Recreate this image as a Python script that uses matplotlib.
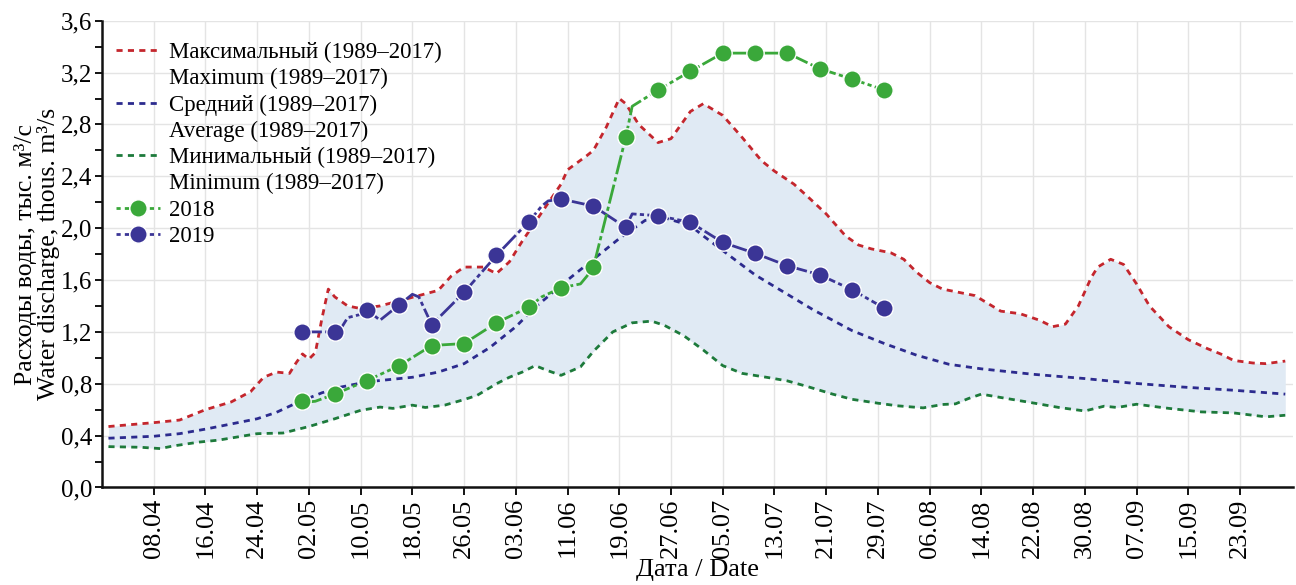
import matplotlib

matplotlib.use("Agg")
import matplotlib.pyplot as plt
import numpy as np
from matplotlib.lines import Line2D
from matplotlib.ticker import MultipleLocator, FuncFormatter

plt.rcParams["font.family"] = ["Liberation Serif", "DejaVu Serif"]

# ---- data: day offset from 01.04 and discharge, thous. m3/s ----
max_days = [0, 7, 11, 15, 19, 22, 24, 26, 28, 29, 30, 31, 32, 33, 34, 35, 37, 39,
            42, 45, 48, 51, 53, 55, 58, 60, 62, 64, 67, 70, 71, 74, 75, 77, 79, 80,
            82, 85, 87, 90, 92, 95, 98, 101, 103, 106, 108, 111, 114, 116, 118, 121,
            123, 125, 127, 129, 134, 138, 141, 144, 146, 148, 150, 152, 153, 155,
            157, 159, 161, 164, 167, 170, 172, 174, 177, 179, 182]
max_vals = [0.47, 0.50, 0.52, 0.60, 0.66, 0.74, 0.85, 0.89, 0.88, 0.96, 1.03, 0.99,
            1.04, 1.30, 1.53, 1.47, 1.40, 1.38, 1.40, 1.44, 1.48, 1.52, 1.63, 1.70,
            1.70, 1.65, 1.74, 1.90, 2.12, 2.34, 2.45, 2.56, 2.60, 2.78, 3.00, 2.96,
            2.80, 2.66, 2.69, 2.90, 2.96, 2.87, 2.70, 2.52, 2.44, 2.34, 2.25, 2.11,
            1.94, 1.87, 1.84, 1.81, 1.76, 1.66, 1.58, 1.53, 1.48, 1.36, 1.34, 1.29,
            1.24, 1.26, 1.40, 1.62, 1.70, 1.76, 1.72, 1.57, 1.40, 1.24, 1.14, 1.07,
            1.03, 0.98, 0.96, 0.955, 0.975]

mean_days = [0, 7, 11, 15, 19, 23, 26, 29, 33, 36, 40, 43, 47, 51, 55, 59, 63, 66,
             71, 76, 79, 83, 86, 88, 90, 92, 96, 100, 104, 109, 115, 120, 125, 130,
             135, 143, 151, 158, 166, 174, 182]
mean_vals = [0.38, 0.395, 0.415, 0.45, 0.49, 0.53, 0.58, 0.65, 0.73, 0.775, 0.815,
             0.83, 0.85, 0.89, 0.955, 1.08, 1.24, 1.39, 1.60, 1.80, 1.92, 2.06, 2.08,
             2.05, 2.02, 1.94, 1.79, 1.64, 1.52, 1.37, 1.21, 1.11, 1.02, 0.95, 0.915,
             0.873, 0.84, 0.806, 0.775, 0.75, 0.72]

min_days = [0, 5, 8, 10, 14, 17, 20, 23, 27, 31, 35, 39, 42, 44, 47, 49, 52, 55, 57,
            60, 62, 64, 66, 68, 70, 73, 75, 78, 81, 84, 86, 89, 92, 95, 98, 102, 105,
            108, 112, 115, 119, 122, 126, 129, 131, 133, 135, 138, 143, 147, 151, 154,
            156, 159, 164, 169, 174, 179, 182]
min_vals = [0.315, 0.31, 0.30, 0.32, 0.35, 0.365, 0.39, 0.415, 0.42, 0.47, 0.53,
            0.595, 0.62, 0.61, 0.635, 0.617, 0.635, 0.678, 0.71, 0.80, 0.85, 0.89,
            0.94, 0.90, 0.865, 0.93, 1.05, 1.20, 1.27, 1.283, 1.25, 1.17, 1.06, 0.94,
            0.88, 0.848, 0.822, 0.78, 0.72, 0.68, 0.65, 0.63, 0.614, 0.64, 0.645,
            0.686, 0.72, 0.694, 0.652, 0.617, 0.59, 0.627, 0.617, 0.642, 0.61, 0.583,
            0.575, 0.545, 0.557]

y2018_days = [30, 31, 32, 35, 40, 45, 50, 55, 60, 65, 67, 70, 73, 74, 75, 80, 81, 85,
              90, 95, 100, 105, 110, 115, 120]
y2018_vals = [0.665, 0.66, 0.665, 0.72, 0.825, 0.94, 1.095, 1.11, 1.27, 1.39, 1.47,
              1.54, 1.57, 1.63, 1.70, 2.70, 2.94, 3.065, 3.21, 3.35, 3.35, 3.35, 3.23,
              3.15, 3.065]

y2019_days = [30, 35, 36, 37, 39, 40, 42, 45, 47, 48, 50, 55, 60, 65, 67, 68, 70, 75,
              80, 81, 85, 90, 95, 100, 105, 110, 115, 120]
y2019_vals = [1.20, 1.20, 1.23, 1.31, 1.335, 1.37, 1.29, 1.41, 1.49, 1.47, 1.255,
              1.505, 1.79, 2.05, 2.17, 2.21, 2.225, 2.17, 2.006, 2.11, 2.096, 2.045,
              1.89, 1.806, 1.71, 1.64, 1.525, 1.383]

tick_labels = ["08.04", "16.04", "24.04", "02.05", "10.05", "18.05", "26.05", "03.06",
               "11.06", "19.06", "27.06", "05.07", "13.07", "21.07", "29.07", "06.08",
               "14.08", "22.08", "30.08", "07.09", "15.09", "23.09"]

labels = ["Максимальный (1989–2017)", "Maximum (1989–2017)",
          "Средний (1989–2017)", "Average (1989–2017)",
          "Минимальный (1989–2017)", "Minimum (1989–2017)",
          "2018", "2019"]

C_MAX = "#c4262d"
C_MEAN = "#2c2b8e"
C_MIN = "#1d7a3b"
C_18 = "#3aa83a"
C_19 = "#3b3596"
C_FILL = "#e0eaf4"

fig = plt.figure(figsize=(12.96, 5.85), dpi=100)
ax = fig.add_axes([0.0787, 0.1667, 0.9190, 0.7979])

# envelope between min and max
all_days = np.arange(0, 183)
fill_lo = np.interp(all_days, min_days, min_vals)
fill_hi = np.interp(all_days, max_days, max_vals)
ax.fill_between(all_days, fill_lo, fill_hi, color=C_FILL, lw=0, zorder=1)

dash = (0, (2.2, 1.9))
h_max, = ax.plot(max_days, max_vals, color=C_MAX, lw=2.0, ls=dash, zorder=3)
h_mean, = ax.plot(mean_days, mean_vals, color=C_MEAN, lw=2.0, ls=dash, zorder=3)
h_min, = ax.plot(min_days, min_vals, color=C_MIN, lw=2.0, ls=dash, zorder=3)

obs_ls = (0, (7, 1.2, 1.5, 1.2))
mk18 = [i for i, d in enumerate(y2018_days) if d % 5 == 0]
mk19 = [i for i, d in enumerate(y2019_days) if d % 5 == 0]
h18, = ax.plot(y2018_days, y2018_vals, color=C_18, lw=2.0, ls=obs_ls,
               marker="o", markersize=12.5, markevery=mk18, markerfacecolor=C_18,
               markeredgecolor="white", markeredgewidth=1.0, zorder=5)
h19, = ax.plot(y2019_days, y2019_vals, color=C_19, lw=2.0, ls=obs_ls,
               marker="o", markersize=12.5, markevery=mk19, markerfacecolor=C_19,
               markeredgecolor="white", markeredgewidth=1.0, zorder=4)

# legend: russian line carries the handle, english line beneath has none
blank = Line2D([], [], color="none")
lh18 = Line2D([], [], color=C_18, lw=2.0, ls=(0, (1.5, 1.5)), marker="o",
              markersize=12.5, markeredgecolor="white")
lh19 = Line2D([], [], color=C_19, lw=2.0, ls=(0, (1.5, 1.5)), marker="o",
              markersize=12.5, markeredgecolor="white")
ax.legend([h_max, blank, h_mean, blank, h_min, blank, lh18, lh19], labels,
          loc="upper left", bbox_to_anchor=(0.012, 0.955), frameon=False,
          fontsize=16.5, handlelength=1.9, handletextpad=0.4, labelspacing=0.225,
          borderpad=0, borderaxespad=0)

# axes styling
ax.set_xlim(-1.0, 183.2)
ax.set_ylim(0, 3.6)
ax.set_xticks(np.arange(7, 183, 8))
ax.set_xticklabels(tick_labels, rotation=90, fontsize=19)
ax.yaxis.set_major_locator(MultipleLocator(0.4))
ax.yaxis.set_minor_locator(MultipleLocator(0.2))
ax.yaxis.set_major_formatter(FuncFormatter(lambda v, p: f"{v:.1f}".replace(".", ",")))
ax.tick_params(axis="y", labelsize=18, length=5, width=1.3, direction="out", pad=2)
ax.tick_params(axis="y", which="minor", length=5, width=1.3)
ax.tick_params(axis="x", length=6, width=1.3, direction="out", pad=2)
ax.grid(True, color="#e4e4e4", lw=1.0, zorder=0)
ax.set_axisbelow(True)
for side in ("top", "right"):
    ax.spines[side].set_visible(False)
for side in ("left", "bottom"):
    ax.spines[side].set_linewidth(1.8)
    ax.spines[side].set_color("#111111")

ax.set_xlabel("Дата / Date", fontsize=19, labelpad=1)
ax.set_ylabel("Расходы воды, тыс. м³/с\nWater discharge, thous. m³/s", fontsize=18.5,
              labelpad=1, linespacing=0.95)

fig.savefig("out.png", dpi=100)
